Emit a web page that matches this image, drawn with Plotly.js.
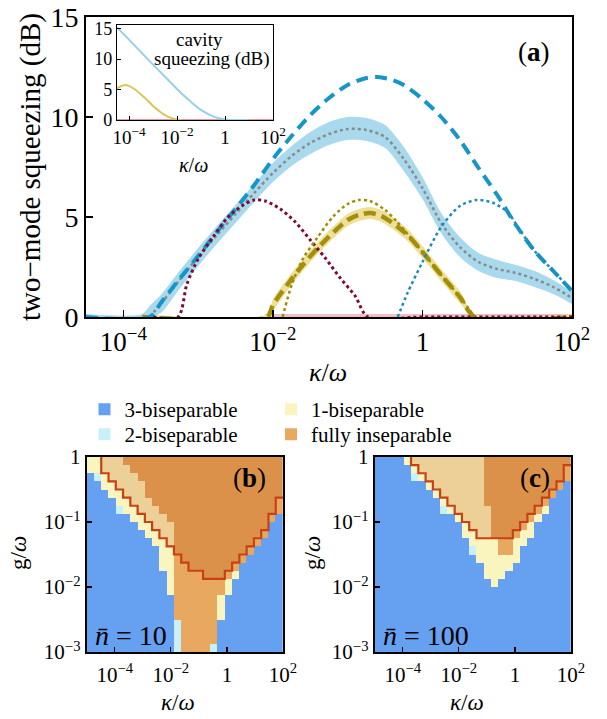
<!DOCTYPE html>
<html><head><meta charset="utf-8">
<script src="https://cdn.plot.ly/plotly-3.0.1.min.js"></script>
<style>html,body{margin:0;padding:0;background:#fff}#chart{width:607px;height:719px}</style>
</head><body><div id="chart"></div>
<script>
// ================= DATA =================
// Panel (a): x = log10(kappa/omega), y = two-mode squeezing (dB)
const blueDashX = [-4.5,-3.65,-3.5,-3.25,-3.0,-2.75,-2.5,-2.25,-2.0,-1.75,-1.5,-1.25,-1.0,-0.75,-0.6,-0.4,-0.25,0,0.25,0.5,0.75,1.0,1.25,1.5,1.75,2.0];
const blueDashY = [0,0,0.7,1.9,3.05,4.25,5.4,6.6,7.9,9.05,10.1,10.95,11.6,11.95,12.0,11.85,11.6,10.9,10.0,8.85,7.45,6.1,4.6,3.3,2.3,1.3];

const grayDotX = [-3.65,-3.5,-3.25,-3.0,-2.75,-2.5,-2.25,-2.0,-1.75,-1.5,-1.25,-1.0,-0.75,-0.5,-0.25,0,0.25,0.5,0.75,1.0,1.25,1.5,1.75,2.0];
const grayDotY = [0,0.65,1.85,3.0,4.1,5.15,6.2,7.2,8.05,8.7,9.15,9.4,9.35,9.0,7.9,6.45,4.7,3.5,2.75,2.4,2.2,1.9,1.5,0.95];

const blueBandX  = [-4.5,-3.75,-3.65,-3.5,-3.25,-3.0,-2.75,-2.5,-2.25,-2.0,-1.75,-1.5,-1.25,-1.0,-0.75,-0.5,-0.25,0,0.25,0.5,0.75,1.0,1.25,1.5,1.75,2.0];
const blueBandHi = [0.15,0.15,0.55,1.1,2.3,3.45,4.55,5.6,6.65,7.7,8.55,9.25,9.75,10.0,9.95,9.6,8.5,7.0,5.2,4.0,3.2,2.85,2.6,2.3,1.85,1.25];
const blueBandLo = [0,0,0,0.2,1.4,2.55,3.65,4.7,5.75,6.75,7.55,8.15,8.6,8.85,8.8,8.45,7.3,5.9,4.2,3.0,2.3,1.95,1.8,1.5,1.15,0.65];

const redDotX = [-3.6,-3.27,-3.15,-3.0,-2.8,-2.6,-2.4,-2.25,-2.1,-1.9,-1.7,-1.5,-1.3,-1.1,-0.9,-0.73,0,1,2];
const redDotY = [0,0,1.65,2.9,4.0,5.0,5.6,5.85,5.8,5.4,4.75,3.85,2.95,1.95,1.05,0,0,0,0];

const oliveDotX = [-1.87,-1.75,-1.6,-1.4,-1.2,-1.0,-0.85,-0.7,-0.5,-0.35,-0.2,0,0.25,0.5,0.7];
const oliveDotY = [0,1.6,2.9,4.0,5.0,5.65,5.85,5.8,5.35,4.8,4.15,3.25,2.1,1.0,0];

const oliveDashX = [-3.75,-2.08,-2.0,-1.8,-1.6,-1.4,-1.2,-1.0,-0.85,-0.7,-0.55,-0.4,-0.2,0,0.25,0.5,0.7,2.0];
const oliveDashY = [0,0,0.6,1.65,2.6,3.45,4.2,4.85,5.1,5.2,5.05,4.7,4.1,3.25,2.1,1.0,0,0];
const yellowBandHi = [0.15,0.15,0.9,1.95,2.9,3.75,4.5,5.15,5.4,5.5,5.35,5.0,4.4,3.55,2.4,1.3,0.15,0.15];
const yellowBandLo = [0,0,0.3,1.35,2.3,3.15,3.9,4.55,4.8,4.9,4.75,4.4,3.8,2.95,1.8,0.7,0,0];

const pinkBandX  = [-2.1,2.0];
const pinkBandHi = [0.15,0.15];
const pinkBandLo = [0,0];

const tealDotX = [-0.33,-0.2,0,0.25,0.5,0.72,0.95,1.15,1.25,1.5,1.75,2.0];
const tealDotY = [0,1.2,2.75,4.5,5.55,5.85,5.7,5.2,4.65,3.3,2.3,1.3];

// Inset: cavity squeezing (dB)
const insetBlueX = [-4.5,-4.0,-3.5,-3.0,-2.5,-2.0,-1.5,-1.0,-0.5,0,0.5,1.0];
const insetBlueY = [15.2,13.2,11.15,9.1,7.1,5.1,3.25,1.65,0.6,0.1,0,0];
const insetYellowX = [-4.5,-4.3,-4.15,-4.0,-3.75,-3.5,-3.25,-3.0,-2.75,-2.5,-2.25,-2.0,-1.85];
const insetYellowY = [5.2,5.6,5.75,5.6,5.0,4.2,3.3,2.3,1.5,0.8,0.35,0.1,0];
const insetRedX = [-4.5,2.0];
const insetRedY = [0,0];

// Tick labels
const kappaTickExp = [-4,-2,0,2];
const kappaTickText = ['10<sup>−4</sup>','10<sup>−2</sup>','1','10<sup>2</sup>'];
const gTickExp = [-3,-2,-1,0];
const gTickText = ['10<sup>−3</sup>','10<sup>−2</sup>','10<sup>−1</sup>','1'];
const dBTicks = [0,5,10,15];

// Panels (b),(c): separability maps, 27 columns (log10 kappa -5..2) x 24 rows (log10 g 0..-3, from top)
// per column: rows from the top that are [dark inseparable | light inseparable] (inside red contour),
// then fully inseparable, 1-biseparable, 2-biseparable; the rest is 3-biseparable
const bDark   = [0,0,0,0,0,1,2,3,5,6,7,8,12,13,14,14,15,15,15,14,13,12,11,10,9,7,5];
const bInside = [0,0,2,3,4,5,6,7,8,9,10,11,12,13,14,14,15,15,15,14,13,12,11,10,9,7,5];
const bFullEnd= [0,0,2,3,4,5,6,7,8,9,10,11,20,24,24,24,24,23,17,15,14,13,12,11,10,8,7];
const bOneEnd = [2,2,4,5,6,7,8,9,10,11,14,17,20,24,24,24,24,23,20,17,15,13,12,11,10,8,7];
const bTwoEnd = [2,3,4,5,7,7,8,9,10,11,14,17,24,24,24,24,24,24,20,17,15,13,12,11,10,8,7];

const cDark   = [0,0,0,0,0,0,0,0,0,0,0,0,0,0,0,6,10,10,10,9,8,7,6,5,4,3,1];
const cInside = [0,0,0,0,0,1,2,3,4,5,6,7,8,9,10,10,10,10,10,9,8,7,6,5,4,3,1];
const cFullEnd= [0,0,0,0,0,1,2,3,4,5,6,7,8,9,10,10,10,12,12,10,9,8,7,6,5,4,3];
const cOneEnd = [0,0,0,0,1,2,3,4,5,6,7,8,10,11,13,15,16,15,14,13,11,10,8,7,5,4,3];
const cTwoEnd = [0,0,0,0,1,3,3,4,5,7,7,8,10,12,13,15,16,15,14,13,11,10,8,7,5,4,3];

// legend rows: [name, category]
const legendRow1 = [['3-biseparable',0],['1-biseparable',2]];
const legendRow2 = [['2-biseparable',1],['fully inseparable',3]];
const catColors = ['#66a0f0','#c8f0fa','#faf5be','#e8a85f','#edcf98','#dc914b'];

// ================= BUILD =================
const NX = 27, NY = 24, KMIN = -5, KMAX = 2, GMIN = -3, GMAX = 0;
const dx = (KMAX-KMIN)/NX, dy = (GMAX-GMIN)/NY;
const pow10 = a => a.map(v => Math.pow(10, v));

function buildMap(dark, inside, fullEnd, oneEnd, twoEnd) {
  const xs = [], ys = [], z = [];
  for (let i = 0; i < NX; i++) xs.push(KMIN + (i+0.5)*dx);
  for (let k = 0; k < NY; k++) {
    const j = NY-1-k;            // row from top
    ys.push(GMAX - (j+0.5)*dy);
    const row = [];
    for (let i = 0; i < NX; i++) {
      let c;
      if (j < dark[i]) c = 5;
      else if (j < inside[i]) c = 4;
      else if (j < fullEnd[i]) c = 3;
      else if (j < oneEnd[i]) c = 2;
      else if (j < twoEnd[i]) c = 1;
      else c = 0;
      row.push(c);
    }
    z.push(row);
  }
  return {xs, ys, z};
}
function contourLine(inside) {
  const x = [], y = [];
  let started = false;
  for (let i = 0; i < NX; i++) {
    if (!started) {
      if (inside[i] > 0) { started = true; x.push(KMIN + i*dx); y.push(GMAX); }
      else continue;
    }
    x.push(KMIN + i*dx); y.push(GMAX - inside[i]*dy);
    x.push(KMIN + (i+1)*dx); y.push(GMAX - inside[i]*dy);
  }
  return {x, y};
}
const cs = [];
catColors.forEach((c, k) => { cs.push([k/6, c]); cs.push([(k+1)/6, c]); });

const mapB = buildMap(bDark, bInside, bFullEnd, bOneEnd, bTwoEnd);
const mapC = buildMap(cDark, cInside, cFullEnd, cOneEnd, cTwoEnd);
const conB = contourLine(bInside);
const conC = contourLine(cInside);

const SERIF = 'Liberation Serif';
const traces = [];
function band(xe, lo, hi, color, xa, ya) {
  traces.push({x: pow10(xe), y: lo, mode:'lines', line:{width:0, shape:'spline', smoothing:0.8}, xaxis:xa, yaxis:ya, showlegend:false, hoverinfo:'skip'});
  traces.push({x: pow10(xe), y: hi, mode:'lines', fill:'tonexty', fillcolor:color, line:{width:0, shape:'spline', smoothing:0.8}, xaxis:xa, yaxis:ya, showlegend:false, hoverinfo:'skip'});
}
function line(xe, ys, color, width, dash, xa, ya) {
  traces.push({x: pow10(xe), y: ys, mode:'lines', line:{color, width, dash, shape:'spline', smoothing:0.8}, xaxis:xa, yaxis:ya, showlegend:false, hoverinfo:'skip'});
}
// panel (a)
band(pinkBandX, pinkBandLo, pinkBandHi, '#f4bcc4', 'x', 'y');
band(oliveDashX, yellowBandLo, yellowBandHi, '#ede19a', 'x', 'y');
band(blueBandX, blueBandLo, blueBandHi, '#a9d9ed', 'x', 'y');
line(grayDotX, grayDotY, '#8a8a8a', 2.5, 'dot', 'x', 'y');
line(oliveDashX, oliveDashY, '#a38f0c', 4.5, '12px,6px', 'x', 'y');
line(blueDashX, blueDashY, '#1496c8', 4, '12px,7px', 'x', 'y');
line(redDotX, redDotY, '#7d0a36', 3, 'dot', 'x', 'y');
line(oliveDotX, oliveDotY, '#a08c00', 2.5, 'dot', 'x', 'y');
line(tealDotX, tealDotY, '#1c8cba', 2.5, 'dot', 'x', 'y');
// inset
line(insetRedX, insetRedY, '#e8707a', 1.5, 'solid', 'x2', 'y2');
line(insetYellowX, insetYellowY, '#d9c655', 2, 'solid', 'x2', 'y2');
line(insetBlueX, insetBlueY, '#93d2e8', 2, 'solid', 'x2', 'y2');
// maps
[[mapB, conB, 'x3', 'y3'], [mapC, conC, 'x4', 'y4']].forEach(([m, con, xa, ya]) => {
  traces.push({type:'heatmap', x:m.xs, y:m.ys, z:m.z, zmin:-0.5, zmax:5.5, colorscale:cs, showscale:false, xaxis:xa, yaxis:ya, hoverinfo:'skip'});
  traces.push({x:con.x, y:con.y, mode:'lines', line:{color:'#c84114', width:2.2}, xaxis:xa, yaxis:ya, showlegend:false, hoverinfo:'skip'});
});
// legend entries (two horizontal legend rows)
[[legendRow1,'legend'],[legendRow2,'legend2']].forEach(([row, lg]) => {
  row.forEach(([n, cat]) => {
    traces.push({x:[null], y:[null], mode:'markers', name:n, marker:{symbol:'square', size:12, color:catColors[cat]},
      xaxis:'x3', yaxis:'y3', showlegend:true, legend:lg, hoverinfo:'skip'});
  });
});

const W = 607, H = 719;
const px = v => v/W, py = v => 1 - v/H;
const frame = {showline:true, mirror:true, linecolor:'#000', showgrid:false, zeroline:false, ticks:'inside', tickcolor:'#000'};
const tf = s => ({family:SERIF, size:s, color:'#000'});
const legendBase = {orientation:'h', xanchor:'left', yanchor:'top', font:tf(21), bgcolor:'rgba(0,0,0,0)',
  itemsizing:'trace', traceorder:'normal', entrywidth:141.5, entrywidthmode:'pixels'};

const layout = {
  width:W, height:H, margin:{l:0,r:0,t:0,b:0}, paper_bgcolor:'#fff', plot_bgcolor:'#fff',
  font:{family:SERIF},
  xaxis: Object.assign({}, frame, {type:'log', range:[-4.5,2], domain:[px(86),px(572)], anchor:'y', linewidth:2, ticklen:7, tickwidth:1.5,
    tickmode:'array', tickvals:pow10(kappaTickExp), ticktext:kappaTickText, tickfont:tf(27)}),
  yaxis: Object.assign({}, frame, {range:[0,15], domain:[py(317),py(17)], anchor:'x', linewidth:2, ticklen:7, tickwidth:1.5,
    tickmode:'array', tickvals:dBTicks, tickfont:tf(28)}),
  xaxis2: Object.assign({}, frame, {type:'log', range:[-4.5,2], domain:[px(117),px(273)], anchor:'y2', linewidth:1.2, ticklen:4, tickwidth:1,
    tickmode:'array', tickvals:pow10(kappaTickExp), ticktext:kappaTickText, tickfont:tf(19)}),
  yaxis2: Object.assign({}, frame, {range:[0,15.6], domain:[py(120),py(25)], anchor:'x2', linewidth:1.2, ticklen:4, tickwidth:1,
    tickmode:'array', tickvals:dBTicks, tickfont:tf(18)}),
  xaxis3: Object.assign({}, frame, {range:[KMIN,KMAX], domain:[px(86.7),px(283)], anchor:'y3', linewidth:2, ticklen:5, tickwidth:1.2,
    tickmode:'array', tickvals:kappaTickExp, ticktext:kappaTickText, tickfont:tf(21), ticklabelstandoff:3}),
  yaxis3: Object.assign({}, frame, {range:[GMIN,GMAX], domain:[py(652),py(457)], anchor:'x3', linewidth:2, ticklen:5, tickwidth:1.2,
    tickmode:'array', tickvals:gTickExp, ticktext:gTickText, tickfont:tf(21)}),
  xaxis4: Object.assign({}, frame, {range:[KMIN,KMAX], domain:[px(374.7),px(571)], anchor:'y4', linewidth:2, ticklen:5, tickwidth:1.2,
    tickmode:'array', tickvals:kappaTickExp, ticktext:kappaTickText, tickfont:tf(21), ticklabelstandoff:3}),
  yaxis4: Object.assign({}, frame, {range:[GMIN,GMAX], domain:[py(652),py(457)], anchor:'x4', linewidth:2, ticklen:5, tickwidth:1.2,
    tickmode:'array', tickvals:gTickExp, ticktext:gTickText, tickfont:tf(21)}),
  legend: Object.assign({}, legendBase, {x:px(84.5), y:py(389)}),
  legend2: Object.assign({}, legendBase, {x:px(84.5), y:py(414)}),
  annotations: [
    {text:'two−mode squeezing (dB)', x:px(30), y:py(167), textangle:-90, font:tf(29)},
    {text:'<i>κ</i>/<i>ω</i>', x:px(328), y:py(372), font:tf(26)},
    {text:'(<b>a</b>)', x:px(534), y:py(52), font:tf(27)},
    {text:'cavity', x:px(200), y:py(40), font:tf(19)},
    {text:'squeezing (dB)', x:px(212), y:py(59), font:tf(19)},
    {text:'<i>κ</i>/<i>ω</i>', x:px(193), y:py(165), font:tf(20)},
    {text:'(<b>b</b>)', x:px(249), y:py(478), font:tf(27)},
    {text:'(<b>c</b>)', x:px(534.5), y:py(478), font:tf(27)},
    {text:'<i>n̄</i> = 10', x:px(131), y:py(635), font:tf(28)},
    {text:'<i>n̄</i> = 100', x:px(426), y:py(635), font:tf(28)},
    {text:'g/<i>ω</i>', x:px(18), y:py(553), textangle:-90, font:tf(23)},
    {text:'g/<i>ω</i>', x:px(312), y:py(553), textangle:-90, font:tf(23)},
    {text:'<i>κ</i>/<i>ω</i>', x:px(178), y:py(702), font:tf(23)},
    {text:'<i>κ</i>/<i>ω</i>', x:px(467), y:py(702), font:tf(23)}
  ].map(a => Object.assign({xref:'paper', yref:'paper', showarrow:false, xanchor:'center', yanchor:'middle'}, a))
};
Plotly.newPlot('chart', traces, layout, {displayModeBar:false, staticPlot:true});
</script>
</body></html>
